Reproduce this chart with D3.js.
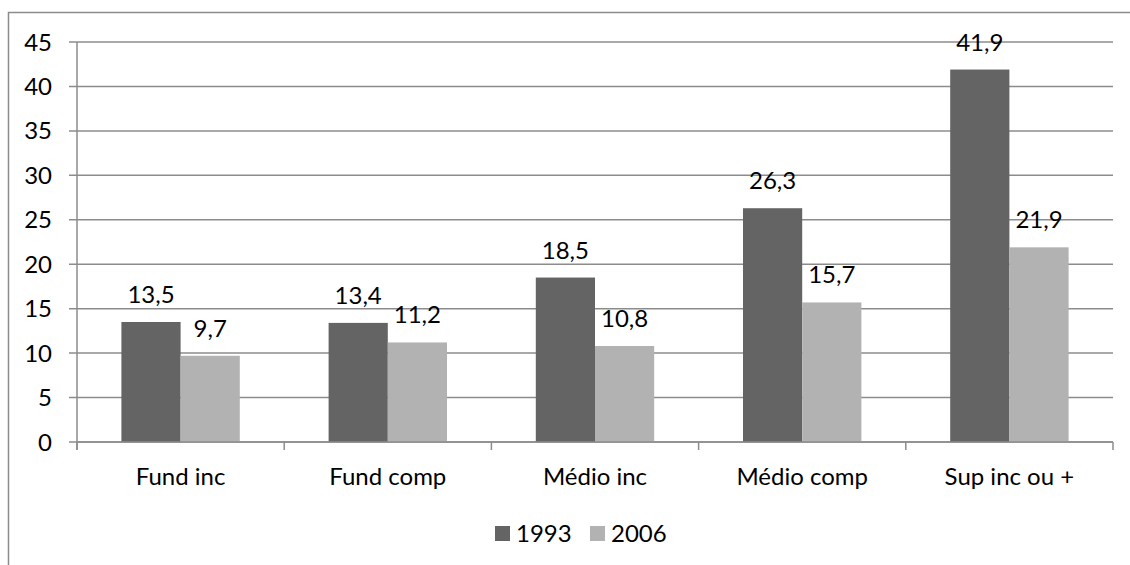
<!DOCTYPE html>
<html><head><meta charset="utf-8">
<script src="https://cdn.jsdelivr.net/npm/d3@7"></script>
<style>body{margin:0;background:#fff}svg{display:block}text{font-family:Lato,"Open Sans",sans-serif;fill:#000}</style>
</head><body><svg id="c" width="1130" height="565"></svg>
<script>
const categories = ["Fund inc","Fund comp","Médio inc","Médio comp","Sup inc ou +"];
const series = ["1993","2006"];
const values1993 = [13.5,13.4,18.5,26.3,41.9];
const values2006 = [9.7,11.2,10.8,15.7,21.9];
const yTicks = [0,5,10,15,20,25,30,35,40,45];
const colors = ["#646464","#b2b2b2"];

const FS = 24;
const svg = d3.select("#c");
const L=77,R=1113,T=42,B=442;
svg.append("rect").attr("x",8.5).attr("y",12.5).attr("width",1140).attr("height",600)
  .attr("fill","none").attr("stroke","#8c8c8c").attr("stroke-width",1.5);

const y = d3.scaleLinear().domain([0,45]).range([B,T]);
const x = d3.scaleBand().domain(categories).range([L,R]);
const barW = x.bandwidth()/3.5;
const data = [values1993, values2006];

// gridlines
svg.append("g").selectAll("line").data(yTicks).join("line")
  .attr("x1",L-8).attr("x2",R).attr("y1",d=>y(d)).attr("y2",d=>y(d))
  .attr("stroke","#8c8c8c").attr("stroke-width",1.5);
// y labels
svg.append("g").selectAll("text").data(yTicks).join("text")
  .attr("x",52).attr("y",d=>y(d)+8.5).attr("text-anchor","end")
  .attr("font-size",FS).text(d=>d);
// bars
series.forEach((s,si)=>{
  svg.append("g").selectAll("rect").data(categories).join("rect")
    .attr("x",c=>x(c)+x.bandwidth()/2-barW+si*barW)
    .attr("width",barW)
    .attr("y",(c,i)=>y(data[si][i]))
    .attr("height",(c,i)=>B-y(data[si][i]))
    .attr("fill",colors[si]);
  svg.append("g").selectAll("text").data(categories).join("text")
    .attr("x",c=>x(c)+x.bandwidth()/2-barW/2+si*barW)
    .attr("y",(c,i)=>y(data[si][i])-19)
    .attr("text-anchor","middle").attr("font-size",FS)
    .text((c,i)=>String(data[si][i]).replace(".",","));
});
// axes lines
svg.append("line").attr("x1",L).attr("x2",L).attr("y1",T).attr("y2",B+8).attr("stroke","#8c8c8c").attr("stroke-width",1.5);
svg.append("line").attr("x1",L).attr("x2",R).attr("y1",B).attr("y2",B).attr("stroke","#8c8c8c").attr("stroke-width",1.5);
const bounds = categories.map(c=>x(c)).concat([R]);
svg.append("g").selectAll("line").data(bounds).join("line")
  .attr("x1",d=>d).attr("x2",d=>d).attr("y1",B).attr("y2",B+8)
  .attr("stroke","#8c8c8c").attr("stroke-width",1.5);
// category labels
svg.append("g").selectAll("text").data(categories).join("text")
  .attr("x",c=>x(c)+x.bandwidth()/2).attr("y",485).attr("text-anchor","middle")
  .attr("font-size",FS).text(c=>c);
// legend
const lg = svg.append("g");
const lx=[495,590];
series.forEach((s,si)=>{
  lg.append("rect").attr("x",lx[si]).attr("y",526).attr("width",15).attr("height",15).attr("fill",colors[si]);
  lg.append("text").attr("x",lx[si]+21).attr("y",542).attr("font-size",FS).text(s);
});
</script></body></html>
